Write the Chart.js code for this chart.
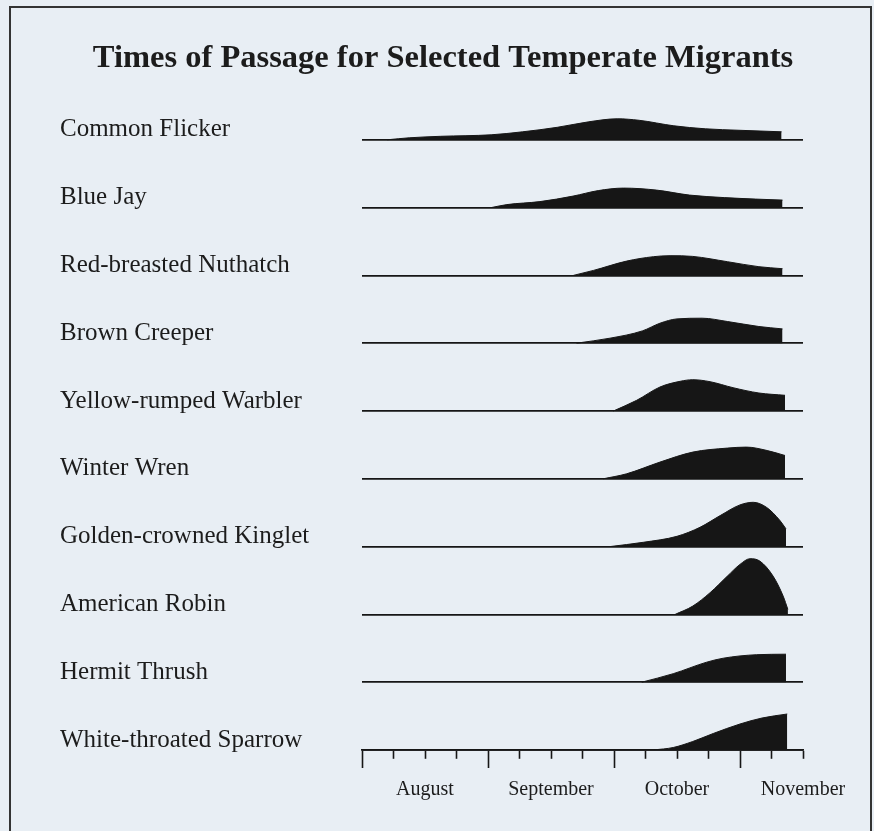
<!DOCTYPE html>
<html lang="en">
<head>
    <meta charset="UTF-8">
    <title>Times of Passage for Selected Temperate Migrants</title>
    <script src="https://cdn.jsdelivr.net/npm/chart.js@4.4.1/dist/chart.umd.min.js"></script>
    <style>
        body {
            margin: 0;
            background-color: #e8eef4;
            overflow: hidden;
        }
        .frame {
            position: absolute;
            top: 6px;
            left: 9px;
            width: 859px;
            height: 900px;
            border: 2px solid #333;
            border-bottom: none;
        }
        canvas {
            position: absolute;
            top: 0;
            left: 0;
        }
    </style>
</head>
<body>
    <div class="frame"></div>
    <canvas id="grafico" width="874" height="831"></canvas>

    <script>
        // species, top row first
        const species = [
            'Common Flicker', 'Blue Jay', 'Red-breasted Nuthatch', 'Brown Creeper',
            'Yellow-rumped Warbler', 'Winter Wren', 'Golden-crowned Kinglet',
            'American Robin', 'Hermit Thrush', 'White-throated Sparrow'
        ];

        // month labels on the week axis (week 0 = start of August)
        const monthWeeks = [2, 6, 10, 14];
        const monthNames = ['August', 'September', 'October', 'November'];

        // relative abundance, [week, height]
        const commonFlicker = [[0.8,0],[1.5,2],[2.5,3.5],[4.1,5],[5.1,8],[6.2,12.5],[7.2,18],[8.1,21],[8.8,19.5],[9.9,14],[10.9,11],[12,9.5],[13.32,8]];
        const blueJay = [[4.1,0],[4.6,3],[5.65,6],[6.7,11.5],[7.5,17],[8.3,19.5],[9.35,17.5],[10.4,12.5],[11.5,10],[12.5,8.5],[13.35,7.5]];
        const nuthatch = [[6.71,0],[7.35,5],[8.4,14.3],[9.25,18.7],[9.78,19.7],[10.5,19],[11.6,13.7],[12.6,8.7],[13.35,6.7]];
        const brownCreeper = [[6.81,0],[7.87,5],[8.9,12.3],[9.46,20],[10,24.3],[10.8,25],[11.6,21.7],[12.6,16.7],[13.35,14.3]];
        const yellowRumped = [[7.98,0],[8.72,10.7],[9.46,24],[10.1,29.7],[10.5,31.3],[11.05,29.3],[11.78,23.3],[12.6,18],[13.43,15.7]];
        const winterWren = [[7.66,0],[8.4,5],[9.46,16.7],[10.5,26.7],[11.6,30.7],[12.2,31.7],[12.86,28.3],[13.43,23.3]];
        const kinglet = [[7.87,0],[8.93,4.3],[10,10.3],[10.73,19.3],[11.37,31],[12,41.7],[12.42,44.3],[12.84,39.3],[13.27,26],[13.46,17.7]];
        const robin = [[9.94,0],[10.5,8.3],[11.05,21.7],[11.6,38.3],[12,50],[12.32,55.7],[12.63,53.3],[13.05,38.3],[13.37,18.3],[13.52,5]];
        const hermitThrush = [[8.88,0],[9.88,8.5],[10.94,20],[11.47,24],[12.53,27.5],[13.46,28]];
        const whiteThroated = [[9.25,0],[9.88,2.5],[10.5,8.5],[11.15,16.5],[12,26],[12.7,32],[13.5,36]];

        const series = [commonFlicker, blueJay, nuthatch, brownCreeper, yellowRumped,
                        winterWren, kinglet, robin, hermitThrush, whiteThroated];

        const rowGap = 67.8;
        const baselines = species.map((s, i) => (species.length - 1 - i) * rowGap);
        const serif = '"Liberation Serif", "Times New Roman", serif';
        const ink = '#161616';

        // each species sits on its own baseline and is filled down to it
        const datasets = series.map((pts, i) => ({
            label: species[i],
            data: pts.map(p => ({ x: p[0], y: baselines[i] + p[1] })),
            borderColor: ink,
            borderWidth: 1,
            backgroundColor: ink,
            pointRadius: 0,
            cubicInterpolationMode: 'monotone',
            fill: { value: baselines[i] }
        }));

        new Chart(document.getElementById('grafico'), {
            type: 'line',
            data: { datasets: datasets },
            options: {
                responsive: false,
                animation: false,
                layout: { padding: { left: 60, right: 48, top: 0, bottom: 19 } },
                plugins: {
                    legend: { display: false },
                    tooltip: { enabled: false },
                    title: {
                        display: true,
                        text: 'Times of Passage for Selected Temperate Migrants',
                        color: '#1c1c1c',
                        font: { family: serif, size: 32.5, weight: 'bold', lineHeight: 1.2 },
                        padding: { top: 39, bottom: 22 }
                    }
                },
                scales: {
                    x: {
                        type: 'linear',
                        min: 0,
                        max: 14,
                        border: { color: ink, width: 1.8 },
                        grid: {
                            drawOnChartArea: false,
                            tickLength: 18,
                            tickColor: ink,
                            tickWidth: 1.6,
                            // weeks get short ticks, month starts long ones
                            tickBorderDash: ctx => ctx.tick.value % 4 === 0 ? [] : [8, 30]
                        },
                        ticks: {
                            stepSize: 1,
                            autoSkip: false,
                            maxRotation: 0,
                            padding: 10,
                            color: '#1c1c1c',
                            font: { family: serif, size: 20 },
                            callback: v => {
                                const k = monthWeeks.indexOf(v);
                                return k >= 0 ? monthNames[k] : '';
                            }
                        }
                    },
                    y: {
                        type: 'linear',
                        min: 0,
                        max: 650,
                        border: { display: false },
                        grid: { color: ink, lineWidth: 1.8, drawTicks: false },
                        afterBuildTicks: scale => {
                            scale.ticks = baselines.map(v => ({ value: v }));
                        },
                        afterFit: scale => { scale.width = 302; },
                        ticks: {
                            autoSkip: false,
                            crossAlign: 'far',
                            labelOffset: -10,
                            color: '#1c1c1c',
                            font: { family: serif, size: 25 },
                            callback: (v, i) => species[i]
                        }
                    },
                    // empty right axis only to balance the title over the page
                    yR: {
                        position: 'right',
                        ticks: { display: false },
                        grid: { display: false },
                        border: { display: false },
                        afterFit: scale => { scale.width = 23; }
                    }
                }
            }
        });
    </script>
</body>
</html>
